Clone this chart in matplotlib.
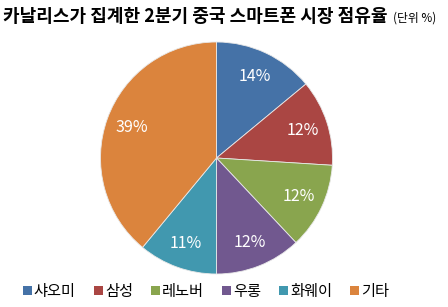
import matplotlib
matplotlib.use("Agg")
import matplotlib.pyplot as plt
from matplotlib.patches import Patch

plt.rcParams["font.family"] = ["Noto Sans CJK KR", "DejaVu Sans"]

brands = ["샤오미", "삼성", "레노버", "우롱", "화웨이", "기타"]
shares = [14, 12, 12, 12, 11, 39]
colors = ["#4572A7", "#AA4643", "#89A54E", "#71588F", "#4198AF", "#DB843D"]

fig = plt.figure(figsize=(4.48, 3.07), dpi=100)

# pie axes: centre ~ (216, 149) px from bottom, radius ~116 px
cx, cy, r = 216.5, 149, 116
ax = fig.add_axes([(cx - r) / 448, (cy - r) / 307, 2 * r / 448, 2 * r / 307])
wedges, texts, autotexts = ax.pie(
    shares,
    colors=colors,
    startangle=90,
    counterclock=False,
    autopct="%d%%",
    pctdistance=0.78,
    wedgeprops={"edgecolor": "#e8e8e8", "linewidth": 0.6},
    textprops={"color": "white", "fontsize": 11.5},
)
ax.set_xlim(-1, 1)
ax.set_ylim(-1, 1)
ax.set_aspect("equal")

fig.text(0.006, 0.945, "카날리스가 집계한 2분기 중국 스마트폰 시장 점유율",
         fontsize=13, fontweight="bold", va="center", ha="left")
fig.text(0.878, 0.942, "(단위 %)", fontsize=8.5, va="center", ha="left")

handles = [Patch(facecolor=c, edgecolor="none") for c in colors]
fig.legend(
    handles, brands,
    loc="center", bbox_to_anchor=(0.46, 0.05),
    ncol=6, frameon=False, fontsize=11,
    handlelength=0.55, handleheight=0.55, handletextpad=0.15,
    columnspacing=1.2,
)

fig.savefig("out.png", dpi=100)
